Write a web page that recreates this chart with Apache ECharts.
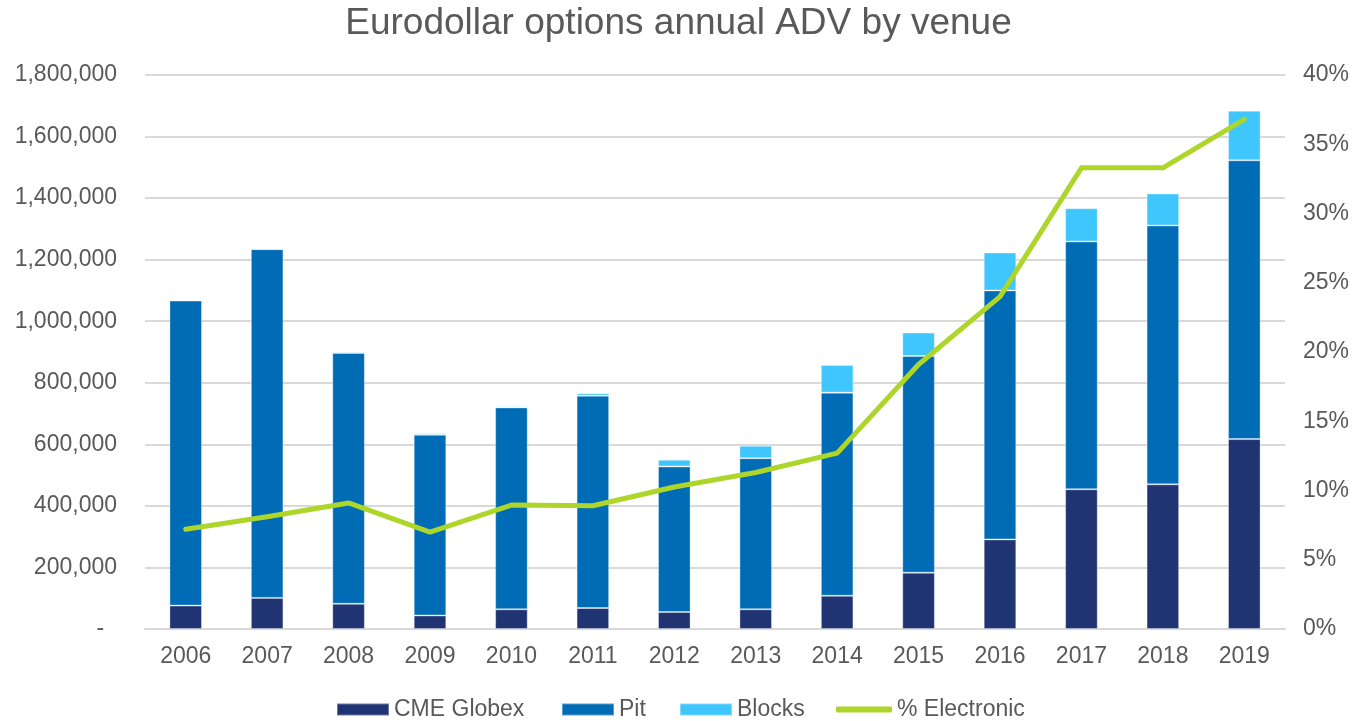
<!DOCTYPE html>
<html>
<head>
<meta charset="utf-8">
<script src="https://cdn.jsdelivr.net/npm/echarts@6/dist/echarts.min.js"></script>
<style>
  html, body { margin: 0; padding: 0; background: #fff; }
  #chart { width: 1357px; height: 721px; }
</style>
</head>
<body>
<div id="chart"></div>
<script>
// 年份
const years = ['2006','2007','2008','2009','2010','2011','2012','2013','2014','2015','2016','2017','2018','2019'];
// 各渠道日均成交量
const globex = [76000, 101000, 82000, 44000, 64000, 68000, 55000, 64000, 108000, 183000, 291000, 454000, 470000, 617000];
const pit = [991000, 1133000, 815000, 587000, 656000, 690000, 473000, 491000, 660000, 704000, 809000, 805000, 841000, 906000];
const blocks = [2000, 3000, 4000, 5000, 4000, 8000, 22000, 40000, 90000, 76000, 123000, 108000, 104000, 161000];
// 电子化比例 %
const electronic = [7.2, 8.1, 9.1, 7.0, 8.95, 8.9, 10.25, 11.3, 12.7, 19.1, 24.0, 33.3, 33.3, 36.8];

const font = 'Liberation Sans, Arial, sans-serif';
const grey = '#595959';
const green = '#ADD52A';

let myChart = echarts.init(document.getElementById('chart'));

// 图例：每项单独定位
function legendItem(name, left, extra) {
  return Object.assign({
    data: [name],
    bottom: 0,
    left: left,
    padding: 0,
    itemWidth: 52,
    itemHeight: 12,
    icon: 'rect',
    textStyle: { fontFamily: font, fontSize: 23, color: grey }
  }, extra || {});
}

const option = {
  backgroundColor: '#fff',
  title: {
    text: 'Eurodollar options annual ADV by venue',
    left: 'center',
    top: 0,
    textStyle: { fontFamily: font, fontSize: 37, fontWeight: 'normal', color: grey }
  },
  legend: [
    legendItem('CME Globex', 336),
    legendItem('Pit', 561),
    legendItem('Blocks', 679),
    legendItem('% Electronic', 836, { itemWidth: 56, itemHeight: 6, icon: 'roundRect', itemStyle: { color: green } })
  ],
  grid: { left: 145, right: 72, top: 75, bottom: 92 },
  xAxis: {
    type: 'category',
    data: years,
    axisTick: { show: false },
    axisLine: { lineStyle: { color: '#d9d9d9', width: 2 } },
    axisLabel: { fontFamily: font, fontSize: 23, color: grey, margin: 16 }
  },
  yAxis: [
    {
      type: 'value',
      min: 0,
      max: 1800000,
      interval: 200000,
      axisLabel: {
        fontFamily: font, fontSize: 23, color: grey, margin: 28,
        formatter: v => v === 0 ? '-  ' : v.toLocaleString('en-US')
      },
      splitLine: { lineStyle: { color: '#d9d9d9', width: 2 } }
    },
    {
      type: 'value',
      min: 0,
      max: 40,
      interval: 5,
      axisLabel: { fontFamily: font, fontSize: 23, color: grey, margin: 18, formatter: '{value}%' },
      splitLine: { show: false }
    }
  ],
  series: [
    {
      name: 'CME Globex', type: 'bar', stack: 'adv', data: globex,
      barCategoryGap: '60%',
      itemStyle: { color: '#203373', borderColor: 'rgba(255,255,255,0.35)', borderWidth: 1 }
    },
    {
      name: 'Pit', type: 'bar', stack: 'adv', data: pit,
      itemStyle: { color: '#006CB5', borderColor: 'rgba(255,255,255,0.35)', borderWidth: 1 }
    },
    {
      name: 'Blocks', type: 'bar', stack: 'adv', data: blocks,
      itemStyle: { color: '#3EC6FD', borderColor: 'rgba(255,255,255,0.35)', borderWidth: 1 }
    },
    {
      name: '% Electronic', type: 'line', yAxisIndex: 1, data: electronic,
      symbol: 'none',
      lineStyle: { color: green, width: 5, cap: 'round', join: 'round' },
      itemStyle: { color: green }
    }
  ]
};

myChart.setOption(option);
</script>
</body>
</html>
